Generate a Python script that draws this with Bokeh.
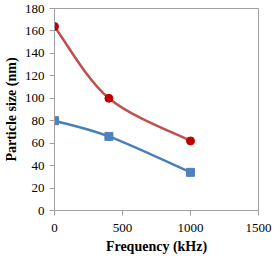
from bokeh.plotting import figure
from bokeh.embed import file_html
from bokeh.resources import INLINE
from bokeh.models import FixedTicker, Range1d

# Data
freq = [0, 400, 1000]
red_size = [164, 100, 62]
blue_size = [80, 66, 34]
x_ticks = [0, 500, 1000, 1500]
y_ticks = [0, 20, 40, 60, 80, 100, 120, 140, 160, 180]


def smooth_segments(xs, ys):
    """Catmull-Rom style bezier control points (Excel-like smoothed line)."""
    n = len(xs)
    x0s, y0s, x1s, y1s, cx0, cy0, cx1, cy1 = [], [], [], [], [], [], [], []
    for i in range(n - 1):
        ip = max(i - 1, 0)
        inn = min(i + 2, n - 1)
        x0s.append(xs[i]); y0s.append(ys[i])
        x1s.append(xs[i + 1]); y1s.append(ys[i + 1])
        cx0.append(xs[i] + (xs[i + 1] - xs[ip]) / 6.0)
        cy0.append(ys[i] + (ys[i + 1] - ys[ip]) / 6.0)
        cx1.append(xs[i + 1] - (xs[inn] - xs[i]) / 6.0)
        cy1.append(ys[i + 1] - (ys[inn] - ys[i]) / 6.0)
    return dict(x0=x0s, y0=y0s, x1=x1s, y1=y1s, cx0=cx0, cy0=cy0, cx1=cx1, cy1=cy1)


p = figure(width=272, height=256, output_backend="svg", toolbar_location=None,
           x_range=Range1d(0, 1500), y_range=Range1d(0, 180),
           min_border_left=46, min_border_right=14, min_border_top=8, min_border_bottom=0)

p.outline_line_color = "#A0A0A0"
p.xgrid.visible = False
p.ygrid.visible = False

rs = smooth_segments(freq, red_size)
p.bezier(x0=rs["x0"], y0=rs["y0"], x1=rs["x1"], y1=rs["y1"],
         cx0=rs["cx0"], cy0=rs["cy0"], cx1=rs["cx1"], cy1=rs["cy1"],
         line_color="#C0504D", line_width=2.5)
bs = smooth_segments(freq, blue_size)
p.bezier(x0=bs["x0"], y0=bs["y0"], x1=bs["x1"], y1=bs["y1"],
         cx0=bs["cx0"], cy0=bs["cy0"], cx1=bs["cx1"], cy1=bs["cy1"],
         line_color="#4A7EBB", line_width=2.5)
p.scatter(freq, red_size, marker="circle", size=8, fill_color="#C00000", line_color="#C00000")
p.scatter(freq, blue_size, marker="square", size=8, fill_color="#4F81BD", line_color="#4F81BD")

# x axis
p.xaxis.axis_line_color = "#A0A0A0"
p.xaxis.major_tick_line_color = "#A0A0A0"
p.xaxis.minor_tick_line_color = None
p.xaxis.major_tick_in = 0
p.xaxis.major_tick_out = 5
p.xaxis.major_label_text_font = "Liberation Serif"
p.xaxis.major_label_text_font_size = "13px"
p.xaxis.major_label_text_color = "black"
p.xaxis.axis_label_text_font = "Liberation Serif"
p.xaxis.axis_label_text_font_style = "bold"
p.xaxis.axis_label_text_font_size = "14px"
p.xaxis.axis_label_text_color = "black"
p.xaxis.major_label_standoff = 8
p.xaxis.axis_label_standoff = 4

# y axis
p.yaxis.axis_line_color = "#A0A0A0"
p.yaxis.major_tick_line_color = "#A0A0A0"
p.yaxis.minor_tick_line_color = None
p.yaxis.major_tick_in = 0
p.yaxis.major_tick_out = 5
p.yaxis.major_label_text_font = "Liberation Serif"
p.yaxis.major_label_text_font_size = "13px"
p.yaxis.major_label_text_color = "black"
p.yaxis.axis_label_text_font = "Liberation Serif"
p.yaxis.axis_label_text_font_style = "bold"
p.yaxis.axis_label_text_font_size = "14px"
p.yaxis.axis_label_text_color = "black"
p.yaxis.major_label_standoff = 5
p.yaxis.axis_label_standoff = 3

p.xaxis.ticker = FixedTicker(ticks=x_ticks)
p.yaxis.ticker = FixedTicker(ticks=y_ticks)
p.xaxis.axis_label = "Frequency (kHz)"
p.yaxis.axis_label = "Particle size (nm)"

open("out.html", "w").write(file_html(p, INLINE))
